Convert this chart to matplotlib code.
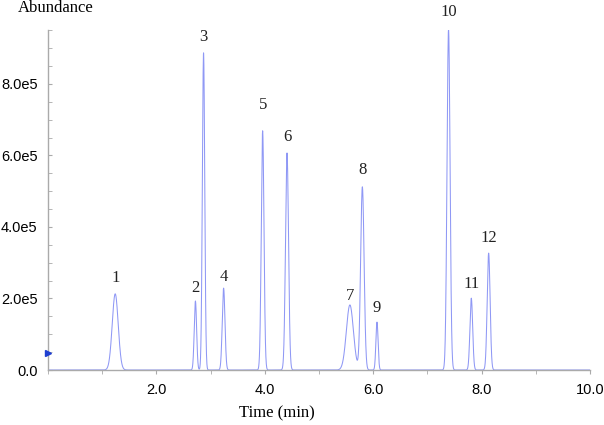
import numpy as np
import matplotlib
matplotlib.use("Agg")
import matplotlib.pyplot as plt
from matplotlib.ticker import MultipleLocator, FuncFormatter

# Peak table
peak_labels = ["1", "2", "3", "4", "5", "6", "7", "8", "9", "10", "11", "12"]
peak_times = [1.24, 2.72, 2.87, 3.24, 3.96, 4.41, 5.57, 5.80, 6.07, 7.39, 7.81, 8.13]
peak_heights = [2.13e5, 1.93e5, 8.87e5, 2.29e5, 6.69e5, 6.07e5, 1.82e5, 5.12e5, 1.34e5, 9.54e5, 2.01e5, 3.27e5]
peak_sigmas = [0.055, 0.022, 0.022, 0.025, 0.025, 0.028, 0.065, 0.032, 0.02, 0.028, 0.025, 0.027]
label_heights = [2.34e5, 2.08e5, 9.09e5, 2.38e5, 7.18e5, 6.29e5, 1.85e5, 5.37e5, 1.52e5, 9.79e5, 2.19e5, 3.47e5]
marker_level = 0.48e5

x_ticks = [2.0, 4.0, 6.0, 8.0, 10.0]
y_ticks = [0.0, 2.0e5, 4.0e5, 6.0e5, 8.0e5]

line_color = "#8f98f5"

fig = plt.figure(figsize=(6.04, 4.25), dpi=100)
ax = fig.add_axes([48 / 604, 55 / 425, 542 / 604, 340 / 425])

t = np.linspace(0, 10, 5001)
signal = np.zeros_like(t)
for c, h, s in zip(peak_times, peak_heights, peak_sigmas):
    signal += h * np.exp(-0.5 * ((t - c) / s) ** 2)
ax.plot(t, signal, color=line_color, lw=0.75)

for lab, c, yh in zip(peak_labels, peak_times, label_heights):
    ax.text(c, yh, lab, ha="center", va="bottom", fontsize=12,
            family="Liberation Serif", color="#222222")

ax.set_xlim(0, 10)
ax.set_ylim(0, 9.51e5)

for side in ["top", "right"]:
    ax.spines[side].set_visible(False)
for side in ["left", "bottom"]:
    ax.spines[side].set_color("#aaaaaa")
    ax.spines[side].set_linewidth(1.0)

ax.set_xticks(x_ticks)
ax.xaxis.set_minor_locator(MultipleLocator(1.0))
ax.set_yticks(y_ticks)
ax.yaxis.set_minor_locator(MultipleLocator(0.5e5))
ax.xaxis.set_major_formatter(FuncFormatter(lambda v, p: f"{v:.1f}"))
ax.yaxis.set_major_formatter(FuncFormatter(lambda v, p: "0.0" if v == 0 else f"{v/1e5:.1f}e5"))
ax.tick_params(axis="both", which="both", color="#aaaaaa", labelsize=10.5)
ax.tick_params(axis="y", which="both", direction="in", length=3, pad=7.5)
ax.tick_params(axis="x", which="both", direction="out", length=3, pad=6)
for lbl in ax.get_xticklabels() + ax.get_yticklabels():
    lbl.set_family("Liberation Sans")

# small marker on the left axis
ax.plot([0], [marker_level], marker=">", color="#1f3fd0", markersize=4,
        clip_on=False, zorder=5)

fig.text(18 / 604, 1 - 8 / 425, "Abundance", ha="left", va="center",
         fontsize=12, family="Liberation Serif")
fig.text(277 / 604, 1 - 413 / 425, "Time (min)", ha="center", va="center",
         fontsize=12, family="Liberation Serif")

fig.savefig("out.png", dpi=100)
